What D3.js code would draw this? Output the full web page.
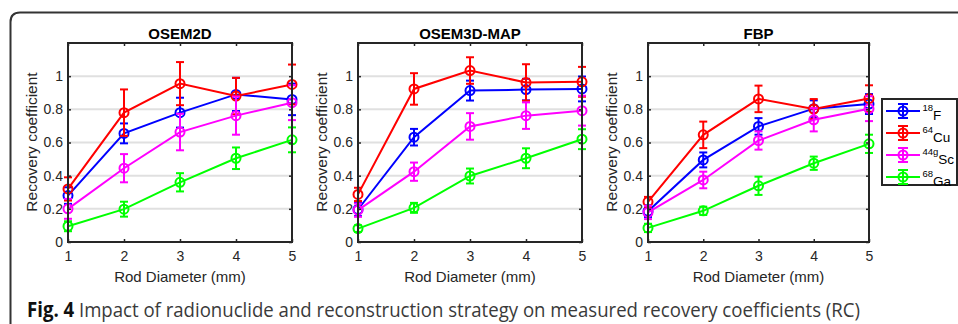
<!DOCTYPE html>
<html>
<head>
<meta charset="utf-8">
<script src="https://cdn.jsdelivr.net/npm/d3@7"></script>
<style>
  body { margin: 0; background: #fff; }
  svg { display: block; }
</style>
</head>
<body>
<div id="chart"></div>
<script>
// DATA
const diameters = [1, 2, 3, 4, 5];
const isotopes = [
  { sup: "18", base: "F" },
  { sup: "64", base: "Cu" },
  { sup: "44g", base: "Sc" },
  { sup: "68", base: "Ga" }
];
const colors = ["#0000ff", "#ff0000", "#ff00ff", "#00ff00"];
const panelTitles = ["OSEM2D", "OSEM3D-MAP", "FBP"];
const yTicks = [0, 0.2, 0.4, 0.6, 0.8, 1];

// OSEM2D values / errors, one row per isotope
const osem2dRC = [
  [0.28, 0.655, 0.78, 0.89, 0.86],
  [0.32, 0.78, 0.955, 0.88, 0.95],
  [0.20, 0.445, 0.663, 0.762, 0.84],
  [0.095, 0.198, 0.36, 0.505, 0.616]
];
const osem2dErr = [
  [0.05, 0.06, 0.09, 0.10, 0.095],
  [0.07, 0.14, 0.13, 0.11, 0.12],
  [0.06, 0.085, 0.11, 0.115, 0.105],
  [0.03, 0.045, 0.055, 0.065, 0.075]
];

// OSEM3D-MAP
const osem3dRC = [
  [0.196, 0.632, 0.913, 0.919, 0.923],
  [0.287, 0.923, 1.034, 0.962, 0.966],
  [0.192, 0.424, 0.697, 0.762, 0.792],
  [0.081, 0.206, 0.398, 0.505, 0.62]
];
const osem3dErr = [
  [0.04, 0.05, 0.06, 0.065, 0.075],
  [0.04, 0.095, 0.08, 0.11, 0.09],
  [0.04, 0.055, 0.08, 0.08, 0.09],
  [0.02, 0.03, 0.045, 0.06, 0.06]
];

// FBP
const fbpRC = [
  [0.186, 0.495, 0.697, 0.804, 0.832],
  [0.242, 0.646, 0.863, 0.802, 0.865],
  [0.178, 0.374, 0.612, 0.737, 0.804],
  [0.085, 0.188, 0.339, 0.475, 0.592]
];
const fbpErr = [
  [0.035, 0.045, 0.05, 0.05, 0.06],
  [0.03, 0.08, 0.08, 0.06, 0.08],
  [0.04, 0.05, 0.055, 0.07, 0.075],
  [0.025, 0.025, 0.055, 0.04, 0.055]
];

const panelValues = [osem2dRC, osem3dRC, fbpRC];
const panelErrors = [osem2dErr, osem3dErr, fbpErr];

// LAYOUT
const W = 958, H = 324;
const plotLeft = [68, 358, 648];
const plotWidth = [224, 224, 221];
const plotTop = 43, plotBottom = 242;
const axisFont = "'Liberation Sans', Arial, Helvetica, sans-serif";
const axisClr = "#262626";

const svg = d3.select("#chart")
  .append("svg")
  .attr("width", W)
  .attr("height", H);

// OUTER FRAME (rounded top-left corner, open to the right and bottom)
svg.append("path")
  .attr("d", "M10.5," + (H + 5) + " L10.5,22 Q10.5,12.5 20,12.5 L" + (W + 5) + ",12.5")
  .attr("fill", "none")
  .attr("stroke", "#333")
  .attr("stroke-width", 2);

const yScale = d3.scaleLinear().domain([0, 1.2]).range([plotBottom, plotTop]);

panelTitles.forEach(function(title, p) {
  const x0 = plotLeft[p], x1 = plotLeft[p] + plotWidth[p];
  const xScale = d3.scaleLinear().domain([1, 5]).range([x0, x1]);
  const g = svg.append("g");

  // GRID
  g.selectAll(".grid")
    .data(yTicks.filter((d) => d > 0))
    .enter()
    .append("line")
    .attr("x1", x0).attr("x2", x1)
    .attr("y1", (d) => yScale(d)).attr("y2", (d) => yScale(d))
    .attr("stroke", "#e0e0e0")
    .attr("stroke-width", 2);

  // SERIES
  const line = d3.line()
    .x((d, i) => xScale(diameters[i]))
    .y((d) => yScale(d));

  panelValues[p].forEach(function(vals, s) {
    const errs = panelErrors[p][s];
    const sg = g.append("g").attr("stroke", colors[s]).attr("fill", "none").attr("stroke-width", 2);
    sg.append("path").attr("d", line(vals));
    vals.forEach(function(v, i) {
      const cx = xScale(diameters[i]);
      const top = yScale(v + errs[i]), bot = yScale(v - errs[i]);
      sg.append("line").attr("x1", cx).attr("x2", cx).attr("y1", top).attr("y2", bot);
      sg.append("line").attr("x1", cx - 4).attr("x2", cx + 4).attr("y1", top).attr("y2", top);
      sg.append("line").attr("x1", cx - 4).attr("x2", cx + 4).attr("y1", bot).attr("y2", bot);
      sg.append("circle").attr("cx", cx).attr("cy", yScale(v)).attr("r", 4.5);
    });
  });

  // AXES (box with inward ticks)
  const xAxisB = d3.axisBottom(xScale).tickValues(diameters).tickSizeInner(-3).tickSizeOuter(0).tickPadding(9).tickFormat(d3.format("d"));
  const xAxisT = d3.axisTop(xScale).tickValues(diameters).tickSizeInner(-3).tickSizeOuter(0).tickFormat("");
  const yAxisL = d3.axisLeft(yScale).tickValues(yTicks).tickSizeInner(-3).tickSizeOuter(0).tickPadding(5).tickFormat((d) => d === 0 ? "0" : d3.format("")(d));
  const yAxisR = d3.axisRight(yScale).tickValues(yTicks).tickSizeInner(-3).tickSizeOuter(0).tickFormat("");

  const axes = [
    g.append("g").attr("transform", "translate(0," + plotBottom + ")").call(xAxisB),
    g.append("g").attr("transform", "translate(0," + plotTop + ")").call(xAxisT),
    g.append("g").attr("transform", "translate(" + x0 + ",0)").call(yAxisL),
    g.append("g").attr("transform", "translate(" + x1 + ",0)").call(yAxisR)
  ];
  axes.forEach(function(a) {
    a.select(".domain").remove();
    a.selectAll("line").attr("stroke", axisClr).attr("stroke-width", 1.5);
    a.selectAll("text").attr("fill", axisClr).style("font-family", axisFont).style("font-size", "14px");
  });

  g.append("rect")
    .attr("x", x0).attr("y", plotTop)
    .attr("width", x1 - x0).attr("height", plotBottom - plotTop)
    .attr("fill", "none")
    .attr("stroke", axisClr)
    .attr("stroke-width", 2);

  // TITLE
  g.append("text")
    .attr("x", (x0 + x1) / 2)
    .attr("y", 39)
    .attr("text-anchor", "middle")
    .style("font-family", axisFont)
    .style("font-size", "15px")
    .style("font-weight", "bold")
    .attr("fill", "#000")
    .text(title);

  // AXIS LABELS
  g.append("text")
    .attr("x", (x0 + x1) / 2)
    .attr("y", 282)
    .attr("text-anchor", "middle")
    .style("font-family", axisFont)
    .style("font-size", "15px")
    .attr("fill", axisClr)
    .text("Rod Diameter (mm)");

  g.append("text")
    .attr("transform", "translate(" + (x0 - 31) + "," + ((plotTop + plotBottom) / 2 - 0.5) + ") rotate(-90)")
    .attr("text-anchor", "middle")
    .style("font-family", axisFont)
    .style("font-size", "15.5px")
    .attr("fill", axisClr)
    .text("Recovery coefficient");
});

// LEGEND
const legend = svg.append("g");
legend.append("rect")
  .attr("x", 882).attr("y", 99)
  .attr("width", 75).attr("height", 86)
  .attr("fill", "#fff")
  .attr("stroke", axisClr)
  .attr("stroke-width", 2);

const legendY = d3.scalePoint().domain(d3.range(isotopes.length)).range([111, 177]);
isotopes.forEach(function(iso, s) {
  const y = legendY(s);
  const lg = legend.append("g").attr("stroke", colors[s]).attr("fill", "none").attr("stroke-width", 2);
  lg.append("line").attr("x1", 886).attr("x2", 920).attr("y1", y).attr("y2", y);
  lg.append("line").attr("x1", 903).attr("x2", 903).attr("y1", y - 7).attr("y2", y + 7);
  lg.append("line").attr("x1", 898).attr("x2", 908).attr("y1", y - 7).attr("y2", y - 7);
  lg.append("line").attr("x1", 898).attr("x2", 908).attr("y1", y + 7).attr("y2", y + 7);
  lg.append("circle").attr("cx", 903).attr("cy", y).attr("r", 4.5);
  const t = legend.append("text")
    .attr("x", 922.5).attr("y", y + 8.5)
    .style("font-family", axisFont)
    .style("font-size", "13.5px")
    .attr("fill", "#000");
  t.append("tspan").attr("dy", -8.5).style("font-size", "9.5px").text(iso.sup);
  t.append("tspan").attr("dy", 8.5).text(iso.base);
});

// CAPTION
const cap = svg.append("text")
  .attr("x", 27).attr("y", 317)
  .attr("textLength", 833)
  .attr("lengthAdjust", "spacingAndGlyphs")
  .style("font-family", "'Open Sans', sans-serif")
  .style("font-size", "20.5px")
  .attr("fill", "#3a3a3a");
cap.append("tspan").style("font-weight", "bold").attr("fill", "#111").text("Fig. 4");
cap.append("tspan").text(" Impact of radionuclide and reconstruction strategy on measured recovery coefficients (RC)");
</script>
</body>
</html>
